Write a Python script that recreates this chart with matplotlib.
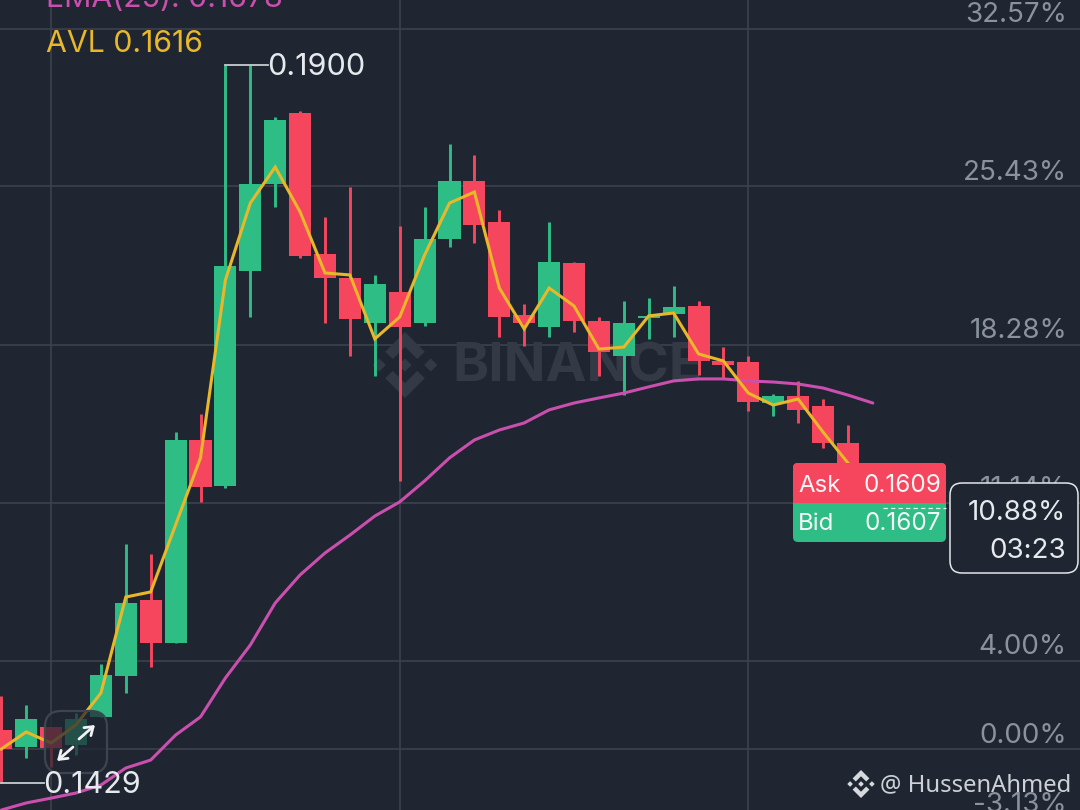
import matplotlib
matplotlib.use("Agg")
import matplotlib.pyplot as plt
from matplotlib.patches import FancyBboxPatch, Polygon
from matplotlib.transforms import Affine2D, blended_transform_factory

plt.rcParams['font.family'] = ['Inter', 'DejaVu Sans']

# candle values, percent change from the reference price
opens = [0.86, 0.09, 0.99, 0.18, 1.45, 3.30, 6.74, 4.79, 13.97, 11.89, 21.61, 25.54, 28.75, 22.38, 21.29,
         19.26, 20.66, 19.26, 23.06, 25.68, 23.83, 19.62, 19.08, 21.97, 19.35, 17.77, 19.49, 19.67, 20.03,
         17.54, 17.50, 15.64, 15.96, 15.51, 13.83]
closes = [0.00, 1.36, 0.05, 1.36, 3.35, 6.60, 4.79, 13.97, 11.85, 21.84, 25.54, 28.44, 22.29, 21.29, 19.44,
          21.02, 19.08, 23.06, 25.68, 23.69, 19.53, 19.26, 22.02, 19.35, 17.95, 19.26, 19.58, 19.98, 17.54,
          17.36, 15.69, 15.96, 15.33, 13.83, 10.88]
highs = [2.40, 1.99, 0.99, 1.63, 3.84, 9.27, 8.82, 14.33, 15.15, 30.92, 30.92, 28.57, 28.84, 24.05, 25.41,
         21.43, 23.64, 24.50, 27.35, 26.85, 24.37, 20.12, 23.83, 22.02, 19.53, 20.25, 20.39, 20.93, 20.25,
         18.17, 17.77, 16.05, 16.64, 15.82, 14.65]
lows = [-1.54, -0.41, -0.81, -0.27, 1.45, 2.53, 3.71, 4.79, 11.17, 11.80, 19.53, 24.50, 22.20, 19.26, 17.77,
        16.86, 12.12, 19.12, 22.70, 22.88, 18.63, 18.22, 18.63, 18.85, 16.86, 16.00, 18.54, 18.63, 16.91,
        16.77, 15.28, 15.05, 14.74, 13.61, 10.88]
avl = [0.00, 0.77, 0.27, 1.09, 2.53, 6.87, 7.10, 10.13, 13.16, 21.20, 24.68, 26.31, 24.28, 21.52, 21.43,
       18.54, 19.53, 22.33, 24.68, 25.18, 20.84, 18.99, 20.84, 20.03, 18.08, 18.17, 19.58, 19.71, 17.86,
       17.54, 16.09, 15.55, 15.82, 14.33, 12.93]
ema = [-2.76, -2.44, -2.22, -1.99, -1.63, -0.86, -0.50, 0.63, 1.45, 3.21, 4.70, 6.60, 7.87, 8.86, 9.67,
       10.53, 11.17, 12.12, 13.16, 13.97, 14.42, 14.74, 15.33, 15.64, 15.87, 16.09, 16.37, 16.64, 16.73,
       16.73, 16.64, 16.59, 16.50, 16.32, 16.00, 15.64]
pct_ticks = [32.57, 25.43, 18.28, 11.14, 4.00, 0.00, -3.13]
pct_labels = ['32.57%', '25.43%', '18.28%', '11.14%', '4.00%', '0.00%', '-3.13%']
time_ticks = [2, 16, 30]

BG = '#1f2631'
GRID = '#3c424d'
UP = '#2ebd85'
DOWN = '#f6465d'
YEL = '#e8b72a'
MAG = '#cb4fae'
AXT = '#8a929e'
WM = '#333a45'

fig = plt.figure(figsize=(10.8, 8.1), dpi=100, facecolor=BG)
ax = fig.add_axes([0, 0, 1, 1], facecolor=BG)
ax.set_xlim(-0.052, 43.32)
ax.set_ylim(-2.758, 33.86)
ax.axis('off')

# helper transforms: reference pixels (origin top-left) for furniture
px = Affine2D().scale(1, -1).translate(0, 810)
xpx_ydata = blended_transform_factory(px, ax.transData)

for t in pct_ticks:
    ax.axhline(t, color=GRID, lw=1.2, zorder=1)
for t in time_ticks:
    ax.axvline(t, color=GRID, lw=1.2, zorder=1)


def logo(cx, cy, r, color, z, alpha=1.0):
    chevron = [(0, 1), (0.6, 0.4), (0.37, 0.18), (0, 0.55), (-0.37, 0.18), (-0.6, 0.4)]
    shapes = [chevron, [(a, -b) for a, b in chevron]]
    for dx in (-0.78, 0, 0.78):
        s = 0.2
        shapes.append([(dx, s), (dx + s, 0), (dx, -s), (dx - s, 0)])
    for sh in shapes:
        ax.add_patch(Polygon([(cx + a * r, cy - b * r) for a, b in sh], closed=True, fc=color, ec='none',
                             transform=px, zorder=z, alpha=alpha))


# watermark
logo(405, 365, 33, WM, 2)
ax.text(452, 367, 'BINANCE', transform=px, color=WM, fontsize=39.5, fontweight='bold', va='center', ha='left',
        zorder=2)

# candles
idx = list(range(len(opens)))
cols = [UP if c >= o else DOWN for o, c in zip(opens, closes)]
ax.vlines(idx, lows, highs, colors=cols, lw=2.1, zorder=3)
ax.bar(idx, [abs(c - o) for o, c in zip(opens, closes)], bottom=[min(o, c) for o, c in zip(opens, closes)],
       width=0.885, color=cols, linewidth=0, zorder=4)

# indicators
ax.plot(range(len(ema)), ema, color=MAG, lw=2.2, zorder=5, solid_capstyle='round')
ax.plot(idx, avl, color=YEL, lw=2.2, zorder=6, solid_joinstyle='miter')

# axis labels
for t, lab in zip(pct_ticks, pct_labels):
    ax.annotate(lab, xy=(1067, t), xycoords=xpx_ydata, xytext=(0, 9.6), textcoords='offset points',
                ha='right', va='center', color=AXT, fontsize=20, zorder=7)

# legend texts
ax.text(46, -1, 'EMA(25): 0.1678', transform=px, color=MAG, fontsize=21.8, va='center', ha='left', zorder=8)
ax.text(46, 44, 'AVL 0.1616', transform=px, color=YEL, fontsize=21.8, va='center', ha='left', zorder=8)

# high / low markers
WHT = '#e6e9ed'
hi_i = highs.index(max(highs))
lo_i = lows.index(min(lows))
ax.plot([hi_i, hi_i + 1.73], [highs[hi_i]] * 2, color='#c8ccd2', lw=1.3, zorder=6)
ax.annotate('0.1900', xy=(hi_i + 1.68, highs[hi_i]), xytext=(0, -1.5), textcoords='offset points', color=WHT,
            fontsize=22, va='center', ha='left', zorder=8)
ax.plot([lo_i, lo_i + 1.72], [lows[lo_i]] * 2, color='#c8ccd2', lw=1.3, zorder=6)

# expand button
ax.add_patch(FancyBboxPatch((53, 719), 46, 46, boxstyle='round,pad=8,rounding_size=16', transform=px,
                            fc=BG, alpha=0.72, ec='none', zorder=7))
ax.add_patch(FancyBboxPatch((53, 719), 46, 46, boxstyle='round,pad=8,rounding_size=16', transform=px,
                            fc='none', ec='#3f4550', lw=1.6, zorder=7))
for (x0, y0), (x1, y1) in [(((79, 739)), ((95, 725))), (((73, 747)), ((57, 761)))]:
    ax.annotate('', xy=(x1, y1), xytext=(x0, y0), xycoords=px, textcoords=px, zorder=8,
                arrowprops=dict(arrowstyle='->,head_length=0.55,head_width=0.38', color='#f0f2f4', lw=2.0,
                                shrinkA=0, shrinkB=0))
ax.annotate('0.1429', xy=(lo_i + 1.68, lows[lo_i]), xytext=(0, -1.5), textcoords='offset points', color=WHT,
            fontsize=22, va='center', ha='left', zorder=8)

# ask / bid box
ax.add_patch(FancyBboxPatch((797, 467), 145, 71, boxstyle='round,pad=4,rounding_size=5', transform=px,
                            fc=UP, ec='none', zorder=9))
ask = FancyBboxPatch((797, 467), 145, 36, boxstyle='round,pad=4,rounding_size=5', transform=px,
                     fc=DOWN, ec='none', zorder=9)
ax.add_patch(ask)
ax.add_patch(plt.Rectangle((793, 490), 153, 13, transform=px, fc=DOWN, ec='none', zorder=9))
ax.add_patch(plt.Rectangle((793, 503), 153, 13, transform=px, fc=UP, ec='none', zorder=9))
ax.plot([883, 946], [closes[-1]] * 2, color='#e8f5ef', lw=0.9, ls=(0, (3.5, 2.5)), zorder=10,
        transform=xpx_ydata)
for lab, val, y in [('Ask', '0.1609', 486), ('Bid', '0.1607', 524)]:
    ax.text(798, y, lab, transform=px, color='#f4f6f8', fontsize=17.3, va='center', ha='left', zorder=11)
    ax.text(941, y, val, transform=px, color='#f4f6f8', fontsize=17.5, va='center', ha='right', zorder=11)

# current price box
ax.add_patch(FancyBboxPatch((958, 491), 112, 74, boxstyle='round,pad=8,rounding_size=12', transform=px,
                            fc=BG, ec='#e4e7ea', lw=1.1, zorder=9))
ax.text(1066, 513, '10.88%', transform=px, color=WHT, fontsize=20, va='center', ha='right', zorder=11)
ax.text(1066, 551, '03:23', transform=px, color=WHT, fontsize=20, va='center', ha='right', zorder=11)

# author tag
logo(861, 784, 14, '#d6d9de', 11)
ax.text(880, 785, '@ HussenAhmed', transform=px, color='#cdd1d7', fontsize=17.2, va='center', ha='left',
        zorder=11, family='Noto Sans')

fig.savefig('out.png', dpi=100, facecolor=BG)
